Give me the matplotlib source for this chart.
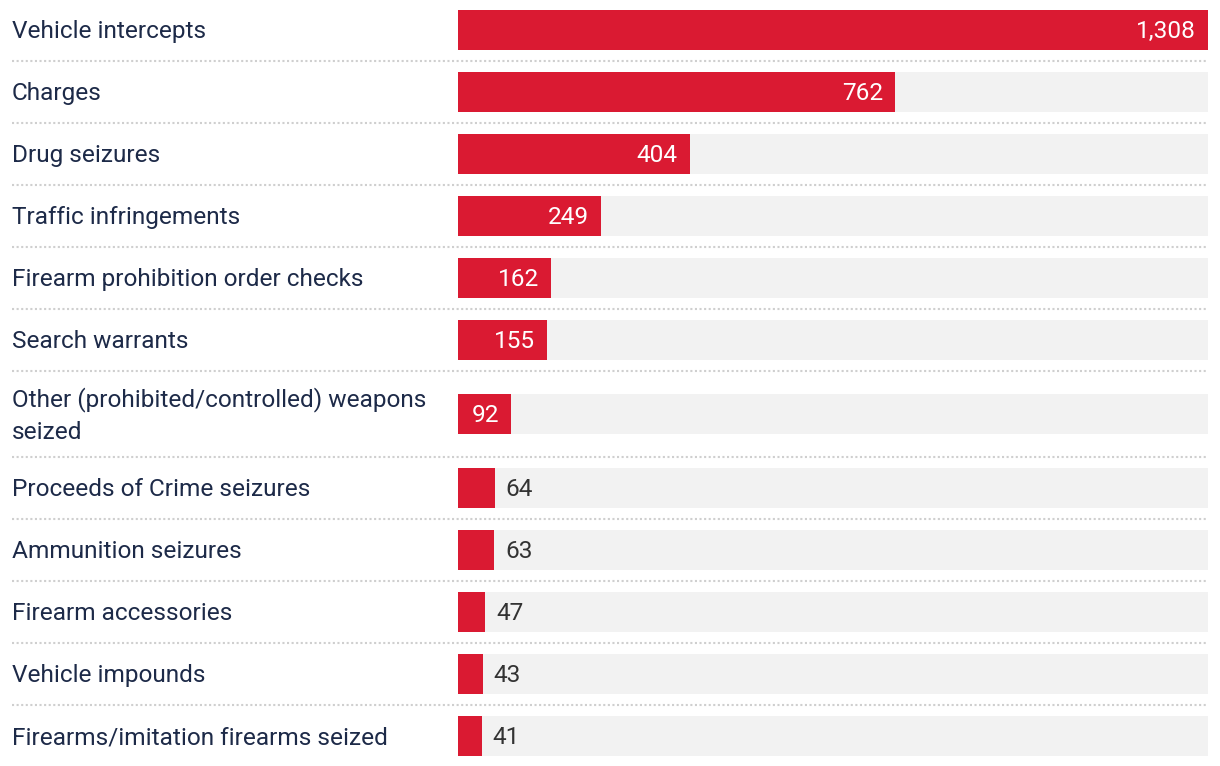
import matplotlib.pyplot as plt
from matplotlib.transforms import blended_transform_factory

plt.rcParams['font.family'] = ['Roboto', 'DejaVu Sans']

# data
labels = ['Vehicle intercepts', 'Charges', 'Drug seizures', 'Traffic infringements',
          'Firearm prohibition order checks', 'Search warrants',
          'Other (prohibited/controlled) weapons\nseized',
          'Proceeds of Crime seizures', 'Ammunition seizures', 'Firearm accessories',
          'Vehicle impounds', 'Firearms/imitation firearms seized']
values = [1308, 762, 404, 249, 162, 155, 92, 64, 63, 47, 43, 41]

RED = '#da1a32'
BG = '#f2f2f2'
TEXT = '#1d2a48'
FS = 17.6

W, H = 1220, 766
fig = plt.figure(figsize=(W / 100, H / 100), dpi=100)
# bar area: x from 458px to 1208px
ax = fig.add_axes([458 / W, 0, 750 / W, 1])
vmax = max(values)
ax.set_xlim(0, vmax)
ax.set_ylim(H, 0)
ax.axis('off')

# row layout in pixels (two-line labels get a taller row)
row_h = [86 if '\n' in l else 62 for l in labels]
tops = []
y = -1
for h in row_h:
    tops.append(y)
    y += h
centers = [t + h / 2 for t, h in zip(tops, row_h)]

ax.barh(centers, [vmax] * len(values), height=40, color=BG, left=0)
ax.barh(centers, values, height=40, color=RED)

tr = blended_transform_factory(fig.transFigure, ax.transData)
for lab, c, t, h in zip(labels, centers, tops, row_h):
    ax.text(12 / W, c + 1.5, lab, transform=tr, ha='left', va='center', fontsize=FS,
            color=TEXT, linespacing=1.48)
    if t + h < H - 5:
        ax.plot([12 / W, 1208 / W], [t + h, t + h], transform=tr, clip_on=False,
                color='#cfcfcf', lw=1.5, linestyle=(0, (1, 1.2)),
                dash_capstyle='butt')

px = vmax / 750.0
for v, c in zip(values, centers):
    s = f'{v:,}'
    if v * 750 / vmax > 45:
        ax.text(v - 12 * px, c + 1.5, s, ha='right', va='center', fontsize=FS, color='white')
    else:
        ax.text(v + 11 * px, c + 1.5, s, ha='left', va='center', fontsize=FS, color='#333333')

fig.savefig('out.png', dpi=100)
